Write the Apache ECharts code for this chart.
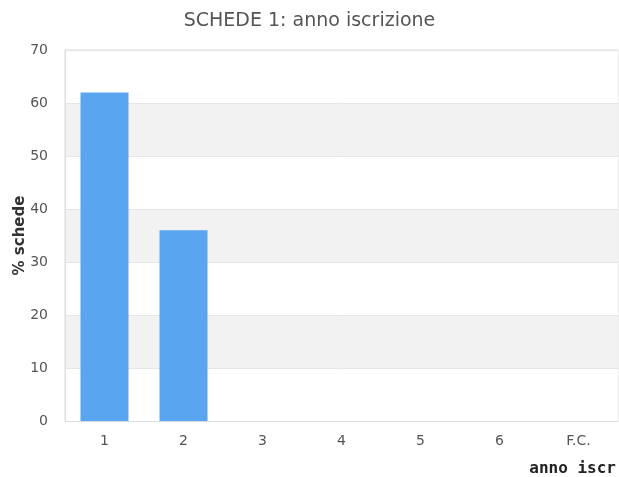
<!DOCTYPE html>
<html><head><meta charset="utf-8">
<script src="https://cdn.jsdelivr.net/npm/echarts@6/dist/echarts.min.js"></script>
<style>html,body{margin:0;padding:0;background:#fff}#c{width:619px;height:477px}</style>
</head><body><div id="c"></div>
<script>
var categories = ['1','2','3','4','5','6','F.C.'];
var values = [62, 36, 0, 0, 0, 0, 0];
var yTicks = [0,10,20,30,40,50,60,70];
var chart = echarts.init(document.getElementById('c'), null, {renderer:'canvas'});
chart.setOption({
  animation:false,
  backgroundColor:'#fff',
  title:{text:'SCHEDE 1: anno iscrizione', left:'center', top:7,
    textStyle:{fontFamily:'DejaVu Sans', fontSize:19, fontWeight:'normal', color:'#555'}},
  grid:{left:65, right:1, top:50, bottom:56, show:true, borderColor:'#dddddd', borderWidth:1, containLabel:false, outerBoundsMode:'none'},
  xAxis:{type:'category', data:categories,
    name:'anno iscr', nameLocation:'end', nameGap:0, nameMoveOverlap:false,
    nameTextStyle:{fontFamily:'DejaVu Sans Mono', fontWeight:'bold', fontSize:16, color:'#222', align:'right', verticalAlign:'top', padding:[40,2,0,0]},
    axisLine:{lineStyle:{color:'#dddddd'}}, axisTick:{show:false},
    axisLabel:{fontFamily:'DejaVu Sans', fontSize:14, color:'#555', margin:13}},
  yAxis:{type:'value', min:yTicks[0], max:yTicks[yTicks.length-1], interval:10,
    name:'% schede', nameLocation:'middle', nameGap:37, nameRotate:90, nameMoveOverlap:false,
    nameTextStyle:{fontFamily:'DejaVu Sans', fontWeight:'bold', fontSize:15, color:'#333'},
    axisLine:{show:true, lineStyle:{color:'#dddddd'}}, axisTick:{show:false},
    axisLabel:{fontFamily:'DejaVu Sans', fontSize:14, color:'#555', margin:17},
    splitLine:{lineStyle:{color:'#e4e4e4'}},
    splitArea:{show:true, areaStyle:{color:['#ffffff','#f2f2f2']}}},
  series:[{type:'bar', data:values, barWidth:48, itemStyle:{color:'#5aa5f0'}}]
});
</script></body></html>
